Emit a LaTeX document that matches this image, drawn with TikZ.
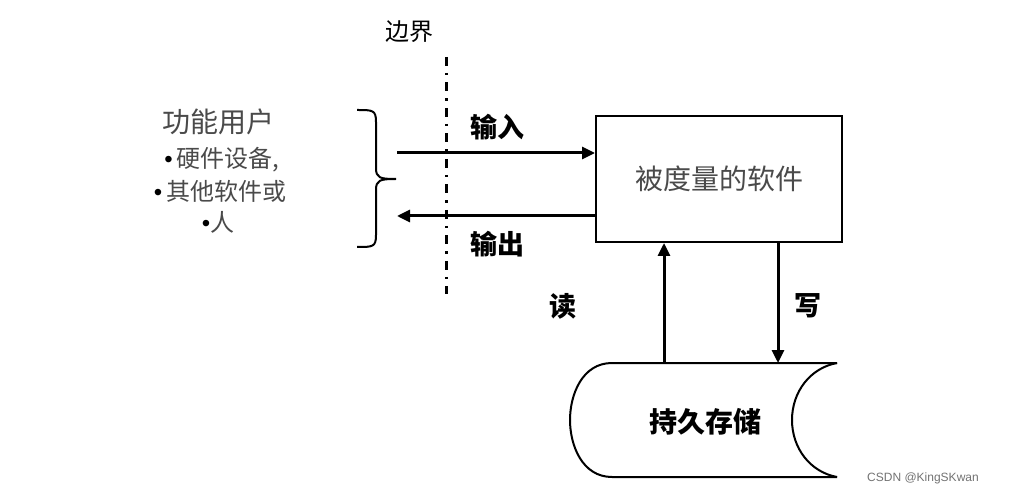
\documentclass[tikz,border=0pt]{standalone}
\usepackage{fontspec}
\setmainfont{Liberation Sans}
\newfontfamily\cjk{Noto Sans CJK SC}
\newfontfamily\lat{Liberation Sans}
\usetikzlibrary{arrows.meta}
\definecolor{txtgray}{HTML}{4A4A4A}
\newcommand{\bul}{{\lat\color{black}•}}
\tikzset{
  conn/.style={line width=3pt,-{Triangle[length=13pt,width=12pt]}},
  lbl/.style={font=\cjk\bfseries\fontsize{27}{30}\selectfont,inner sep=0pt},
  plain/.style={font=\cjk\fontsize{24}{28}\selectfont,text=txtgray,inner sep=0pt},
}
\begin{document}
\begin{tikzpicture}[x=1pt,y=-1pt]
\useasboundingbox[fill=white] (0,0) rectangle (1010,497);
% boundary
\node[font=\cjk\fontsize{24}{28}\selectfont,inner sep=0pt] (bl) at (409,32) {边界};
\coordinate (btop) at (446,57);
\coordinate (bbot) at (446,294);
\draw[line width=3pt,dash pattern=on 9pt off 7pt on 2.5pt off 7pt] (btop) -- (bbot);
% left text
\node[plain,font=\cjk\fontsize{28}{32}\selectfont] (fu) at (218,122) {功能用户};
\node[plain] (t1) at (222,160) {\bul{}\,硬件设备,};
\node[plain] (t2) at (220,191) {\bul{}\,其他软件或};
\node[plain] (t3) at (218,222) {\bul{}人};
% brace
\coordinate (brtip) at (396,179);
\draw[line width=2pt] (357,110) .. controls (373,110) and (376,110) .. (376,122)
  -- (376,168) .. controls (376,178) and (380,179) .. (brtip)
  .. controls (380,179) and (376,180) .. (376,190)
  -- (376,235) .. controls (376,247) and (373,247) .. (357,247);
% software box
\node[draw,line width=2pt,minimum width=246pt,minimum height=126pt,inner sep=0pt,
  font=\cjk\fontsize{28}{32}\selectfont,text=txtgray] (sw) at (719,179) {被度量的软件};
% input/output
\coordinate (inL) at (397,153);
\coordinate (outL) at (397,216);
\draw[conn] (inL) -- (inL -| sw.west);
\draw[conn] (outL -| sw.west) -- (outL);
\node[lbl] (in) at (497,127) {输入};
\node[lbl] (out) at (497,244) {输出};
% storage
\coordinate (stTL) at (612,363);
\coordinate (stTR) at (837,363);
\coordinate (stBR) at (837,477);
\coordinate (stBL) at (612,477);
\draw[line width=2pt] (stTR) -- (stTL) .. controls (582,363) and (570,395) .. (570,420)
  .. controls (570,445) and (582,477) .. (stBL) -- (stBR);
\draw[line width=2pt] (stTR) .. controls (810,368) and (792,392) .. (792,420)
  .. controls (792,448) and (810,472) .. (stBR);
\node[lbl,font=\cjk\bfseries\fontsize{28}{32}\selectfont] (st) at (705,422) {持久存储};
% read / write
\coordinate (rd) at (664,363);
\coordinate (wr) at (778,363);
\draw[conn] (rd) -- (rd |- sw.south);
\draw[conn] (wr |- sw.south) -- (wr);
\node[lbl] (rl) at (563,306) {读};
\node[lbl] (wl) at (808,306) {写};
% watermark
\node[font=\fontsize{12}{14}\selectfont,text=black!55,inner sep=0pt] (wm) at (923,478) {CSDN @KingSKwan};
\end{tikzpicture}
\end{document}
